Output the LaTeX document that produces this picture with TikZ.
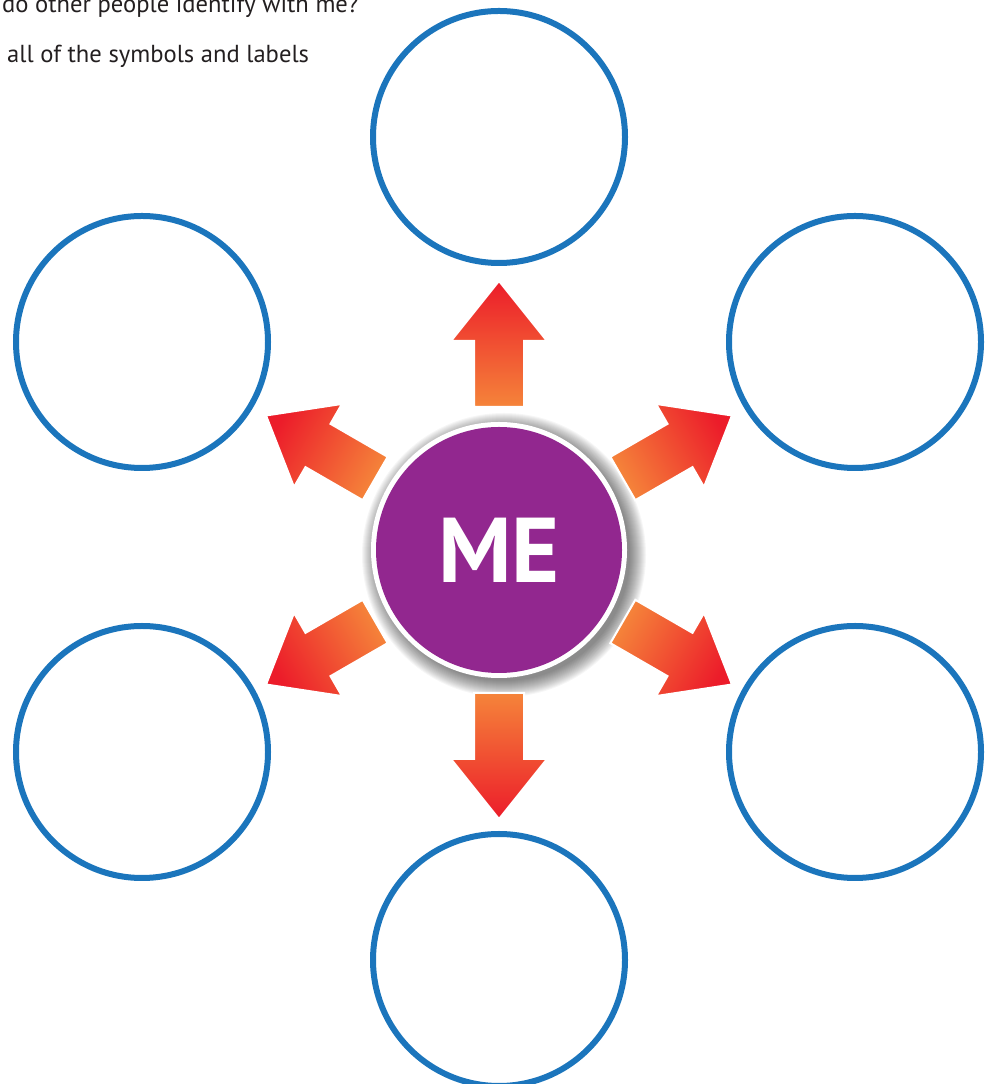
\documentclass[tikz,border=0pt]{standalone}
\usepackage{fontspec}
\setmainfont{PT Sans}
\usetikzlibrary{calc}
\definecolor{ringblue}{HTML}{1B75BC}
\definecolor{mepurple}{HTML}{92278F}
\definecolor{arrred}{HTML}{EC1C2A}
\definecolor{arrorange}{HTML}{F5843A}
\definecolor{txtgray}{HTML}{231F20}
\begin{document}
\begin{tikzpicture}[x=1pt,y=1pt,
  ring/.style={circle, draw=ringblue, line width=6pt, minimum size=252pt, inner sep=0pt},
  headtext/.style={anchor=base west, inner sep=0pt, text=txtgray, font=\fontsize{24.6}{28}\selectfont}]
\useasboundingbox (0,0) rectangle (991,1084);
% header text
\node[headtext] (t1) at (2,1071) {do other people identify with me?};
\node[headtext] (t2) at (7,1021) {all of the symbols and labels};
% outer rings
\node[ring] (top) at (499,947) {};
\node[ring] (ul) at (142,742) {};
\node[ring] (ur) at (855,742) {};
\node[ring] (ll) at (142,332) {};
\node[ring] (lr) at (855,332) {};
\node[ring] (bot) at (499,124) {};
% centre
\coordinate (c) at (499,534);
\foreach \r in {126,...,142}{
  \fill[black, opacity=0.035] ($(c)+(5,-5)$) circle (\r);
}
\foreach \d in {90,30,-30,-90,-150,150}{
  \pgfmathsetmacro\sa{\d-90}
  \shadedraw[draw=white, line width=2pt, top color=arrred, bottom color=arrorange, shading angle=\sa]
   ($(c)+(\d:143)+(\d+90:25)$) -- ($(c)+(\d:209)+(\d+90:25)$) --
   ($(c)+(\d:209)+(\d+90:48)$) -- ($(c)+(\d:269)$) --
   ($(c)+(\d:209)+(\d-90:48)$) -- ($(c)+(\d:209)+(\d-90:25)$) --
   ($(c)+(\d:143)+(\d-90:25)$) -- cycle;
}
\node[circle, fill=white, minimum size=256pt, inner sep=0pt] (meo) at (c) {};
\node[circle, fill=mepurple, minimum size=246pt, inner sep=0pt, text=white,
      font=\fontsize{92}{92}\selectfont\bfseries] (me) at (c) {ME};
\end{tikzpicture}
\end{document}
